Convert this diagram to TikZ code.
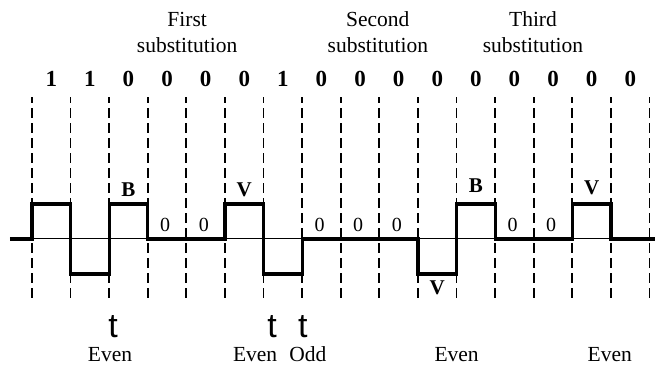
\documentclass[tikz,border=0pt]{standalone}
\usepackage{fontspec}
\setmainfont{Liberation Serif}
\newfontfamily\tfont{Liberation Sans}
\usetikzlibrary{positioning}

\tikzset{
  slot/.style={line width=1.8pt, dash pattern=on 10pt off 5pt},
  axis/.style={line width=1pt},
  pulse/.style={line width=3.2pt},
  bitlab/.style={anchor=base, font=\fontsize{23}{23}\selectfont\bfseries},
  subcaption/.style={anchor=base, align=center, font=\fontsize{21.5}{26}\selectfont},
  pulselab/.style={anchor=base, font=\fontsize{21}{21}\selectfont\bfseries},
  zerolab/.style={anchor=base, font=\fontsize{20}{20}\selectfont},
  tlab/.style={anchor=base, font=\fontsize{34}{34}\tfont},
  parity/.style={anchor=base, font=\fontsize{21.5}{21.5}\selectfont}
}

\begin{document}
\begin{tikzpicture}[x=38.6pt,y=1pt]
    \useasboundingbox (-0.829,-128) rectangle (16.218,239);

    % Bit boundaries
    \foreach \i in {0,...,16}
      \draw[slot] (\i,-59) -- (\i,142);

    % Axis
    \draw[axis] (-0.57,0) -- (16.14,0);

    % HDB3 waveform
    \draw[pulse] (-0.57,0) -- (0,0) -- (0,35) -- (1,35) -- (1,-35) -- (2,-35)
      -- (2,35) -- (3,35) -- (3,0) -- (5,0) -- (5,35) -- (6,35) -- (6,-35)
      -- (7,-35) -- (7,0) -- (10,0) -- (10,-35) -- (11,-35) -- (11,35)
      -- (12,35) -- (12,0) -- (14,0) -- (14,35) -- (15,35) -- (15,0) -- (16.14,0);

    % Data bits
    \foreach \b [count=\k] in {1,1,0,0,0,0,1,0,0,0,0,0,0,0,0,0}
      \node[bitlab] (bit\k) at (\k-0.5,152) {\b};

    % Substitution captions
    \node[subcaption] (first) at (4.02,186) {First\\substitution};
    \node[subcaption] (second) at (8.96,186) {Second\\substitution};
    \node[subcaption] (third) at (12.98,186) {Third\\substitution};

    % Pulse labels
    \node[pulselab] (b1) at (2.5,42) {B};
    \node[pulselab] (v1) at (5.5,42) {V};
    \node[pulselab] (v2) at (10.5,-56) {V};
    \node[pulselab] (b2) at (11.5,46) {B};
    \node[pulselab] (v3) at (14.5,44) {V};
    \foreach \z in {3,4,7,8,9,12,13}
      \node[zerolab] (z\z) at (\z+0.45,7) {0};

    % Time marks
    \node[tlab] (t1) at (2.1,-99) {t};
    \node[tlab] (t2) at (6.22,-99) {t};
    \node[tlab] (t3) at (7.02,-99) {t};

    % Parity
    \node[parity] (even1) at (2.02,-123) {Even};
    \node[parity] (even2) at (5.78,-123) {Even};
    \node[parity] (odd1) at (7.15,-123) {Odd};
    \node[parity] (even3) at (11.0,-123) {Even};
    \node[parity] (even4) at (14.97,-123) {Even};
\end{tikzpicture}
\end{document}
